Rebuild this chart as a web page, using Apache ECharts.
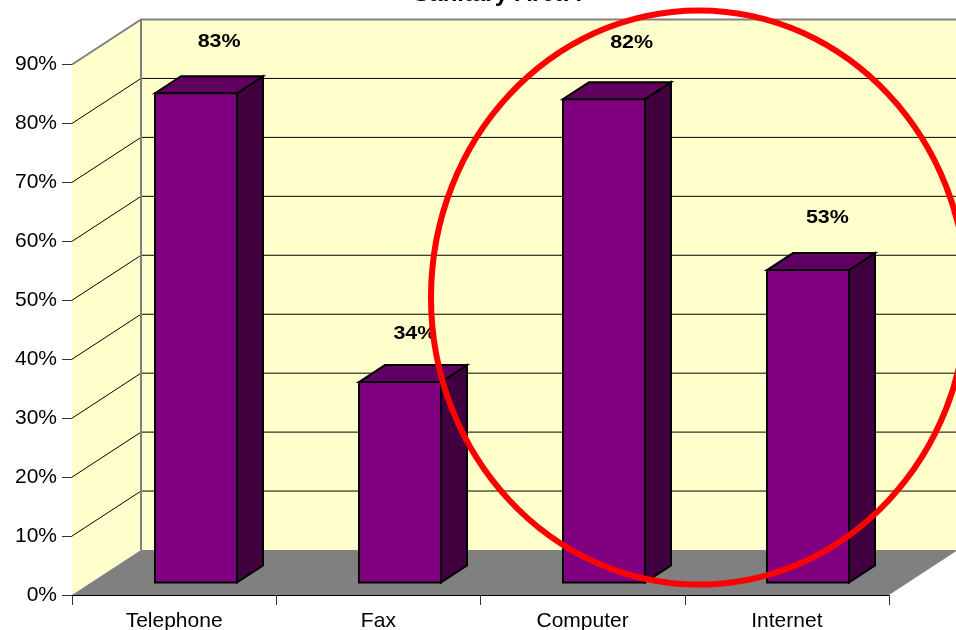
<!DOCTYPE html>
<html>
<head>
<meta charset="utf-8">
<style>html,body{margin:0;padding:0;background:#fff}#c{width:956px;height:630px}</style>
<script src="https://cdn.jsdelivr.net/npm/echarts@6/dist/echarts.min.js"></script>
</head>
<body>
<div id="c"></div>
<script>
const categories = ['Telephone', 'Fax', 'Computer', 'Internet'];
const values = [83, 34, 82, 53];
const yTicks = [10, 20, 30, 40, 50, 60, 70, 80, 90];
const titleText = 'Sanitary Area :';

const FONT = '"Liberation Sans", Arial, sans-serif';
const WALL = [69, -45];      // depth of the 3D box
const BAR_SHIFT = [21.5, -12.5];
const BAR_DEPTH = [26, -17];
const BAR_W = 82;
const LABEL_SHIFT = [[23.5, -51.5], [15, -48], [27.5, -56], [19, -52]];
const maxY = 90;

function wallsItem(params, api) {
  const left = 72, right = 889, y0 = 595, yT = 64.5;
  const [dx, dy] = WALL;
  const poly = (pts, fill) => ({ type: 'polygon', shape: { points: pts }, style: { fill: fill, stroke: null } });
  return {
    type: 'group',
    children: [
      poly([[left, yT], [left + dx, yT + dy], [left + dx, y0 + dy], [left, y0]], '#FFFFCC'),
      poly([[left + dx, yT + dy], [right + dx, yT + dy], [right + dx, y0 + dy], [left + dx, y0 + dy]], '#FFFFCC'),
      poly([[left, y0], [left + dx, y0 + dy], [right + dx, y0 + dy], [right, y0]], '#808080')
    ]
  };
}

function gridItem(params, api) {
  const v = api.value(0);
  const left = 72, right = 889;
  const y = api.coord([0, v])[1];
  const [dx, dy] = WALL;
  return {
    type: 'polyline',
    shape: { points: [[left, y], [left + dx, y + dy], [right + dx, y + dy]] },
    style: { fill: null, stroke: v === maxY ? '#808080' : '#000', lineWidth: v === maxY ? 2 : 1 }
  };
}

function cornerItem(params, api) {
  const top = api.coord([0, maxY])[1] + WALL[1];
  const bottom = api.coord([0, 0])[1] + WALL[1];
  return {
    type: 'line',
    shape: { x1: 72 + WALL[0], y1: top, x2: 72 + WALL[0], y2: bottom },
    style: { stroke: '#808080', lineWidth: 2 }
  };
}

function barItem(params, api) {
  const i = api.value(0), v = api.value(1);
  const base = api.coord([i, 0]);
  const top = api.coord([i, v]);
  const x0 = Math.round(base[0] + BAR_SHIFT[0] - BAR_W / 2);
  const x1 = x0 + BAR_W;
  const yB = base[1] + BAR_SHIFT[1];
  const yT = top[1] + BAR_SHIFT[1];
  const [dx, dy] = BAR_DEPTH;
  const st = f => ({ fill: f, stroke: '#000', lineWidth: 2, lineJoin: 'miter' });
  return {
    type: 'group',
    children: [
      { type: 'polygon', shape: { points: [[x1, yT], [x1 + dx, yT + dy], [x1 + dx, yB + dy], [x1, yB]] }, style: st('#400040') },
      { type: 'polygon', shape: { points: [[x0, yT], [x0 + dx, yT + dy], [x1 + dx, yT + dy], [x1, yT]] }, style: st('#600060') },
      { type: 'rect', shape: { x: x0, y: yT, width: BAR_W, height: yB - yT }, style: st('#800080') }
    ]
  };
}

function labelItem(params, api) {
  const i = api.value(0), v = api.value(1);
  const p = api.coord([i, v]);
  const s = LABEL_SHIFT[i];
  return {
    type: 'text',
    x: p[0] + BAR_SHIFT[0] + s[0],
    y: p[1] + BAR_SHIFT[1] + s[1],
    scaleX: 1.13,
    style: { text: v + '%', fill: '#000', font: 'bold 19px ' + FONT, align: 'center', verticalAlign: 'middle' }
  };
}

const barData = categories.map((c, i) => [i, values[i]]);
const chart = echarts.init(document.getElementById('c'), null, { renderer: 'canvas' });
chart.setOption({
  animation: false,
  backgroundColor: '#fff',
  title: {
    text: titleText, left: 493, textAlign: 'center', top: -23,
    textStyle: { fontFamily: FONT, fontWeight: 'bold', fontSize: 24, color: '#000' }
  },
  grid: { left: 72, width: 817, top: 64.5, height: 530.5, outerBoundsMode: 'none', containLabel: false },
  xAxis: {
    type: 'category', data: categories, boundaryGap: true,
    axisLine: { lineStyle: { color: '#000', width: 1 } },
    axisTick: { show: true, length: 10, lineStyle: { color: '#333' }, alignWithLabel: false },
    axisLabel: { color: '#000', fontFamily: FONT, fontSize: 21, margin: 16, interval: 0 },
    splitLine: { show: false }
  },
  yAxis: {
    type: 'value', min: 0, max: maxY, interval: 10,
    axisLine: { show: true, lineStyle: { color: '#333', width: 1 } },
    axisTick: { show: true, length: 10, lineStyle: { color: '#333' } },
    axisLabel: { color: '#000', fontFamily: FONT, fontSize: 21, margin: 15, formatter: '{value}%' },
    splitLine: { show: false }
  },
  series: [
    { type: 'custom', silent: true, z: 1, clip: false, coordinateSystem: 'cartesian2d', renderItem: wallsItem, data: [[0]], encode: { x: [], y: [] } },
    { type: 'custom', silent: true, z: 2, clip: false, coordinateSystem: 'cartesian2d', renderItem: gridItem, data: yTicks.map(v => [v]), encode: { x: [], y: 0 } },
    { type: 'custom', silent: true, z: 3, clip: false, coordinateSystem: 'cartesian2d', renderItem: cornerItem, data: [[0]], encode: { x: [], y: [] } },
    { type: 'custom', silent: true, z: 4, clip: false, coordinateSystem: 'cartesian2d', renderItem: barItem, data: barData, encode: { x: 0, y: 1 } },
    { type: 'custom', silent: true, z: 5, clip: false, coordinateSystem: 'cartesian2d', renderItem: labelItem, data: barData, encode: { x: 0, y: 1 } }
  ],
  graphic: [{
    type: 'ellipse', z: 100, silent: true,
    shape: { cx: 699, cy: 297.5, rx: 268, ry: 287 },
    style: { fill: null, stroke: '#FF0000', lineWidth: 6 }
  }]
});
</script>
</body>
</html>
